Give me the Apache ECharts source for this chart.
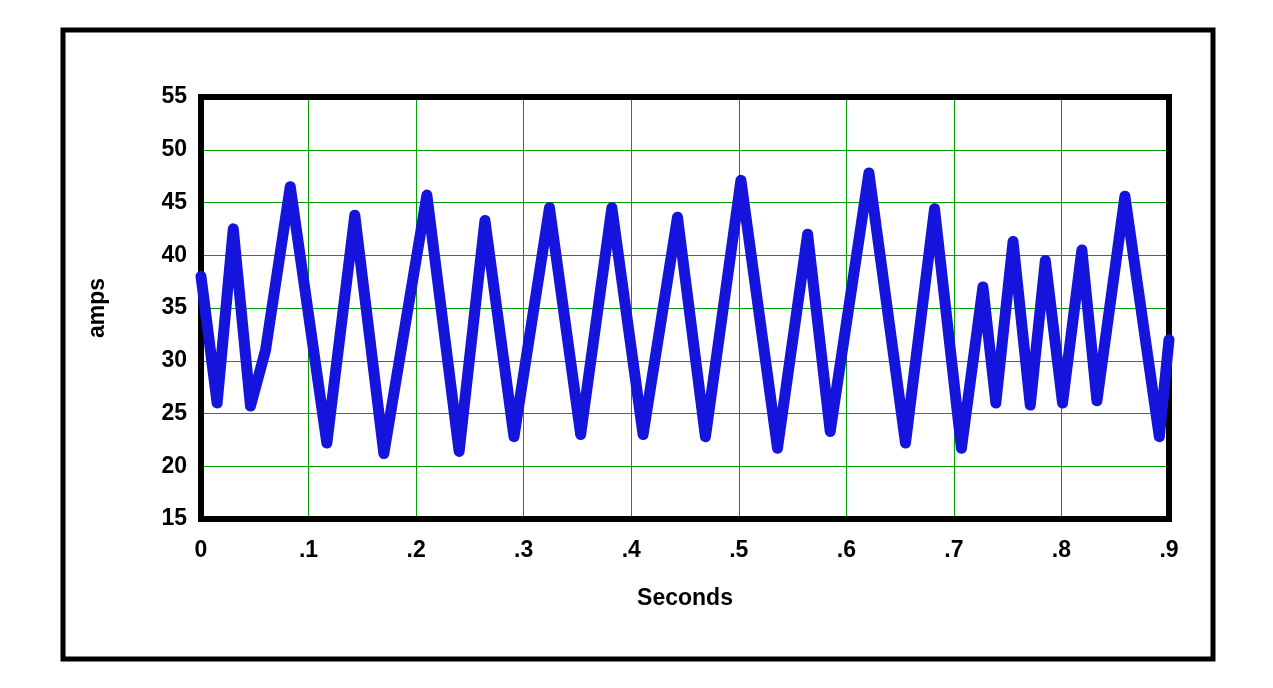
<!DOCTYPE html>
<html>
<head>
<meta charset="utf-8">
<script src="https://cdn.jsdelivr.net/npm/echarts@6/dist/echarts.min.js"></script>
<style>html,body{margin:0;padding:0;background:#fff}#chart{width:1273px;height:688px}</style>
</head>
<body>
<div id="chart"></div>
<script>
// turning points of the current trace (seconds, amps)
var times = [0, 0.015, 0.030, 0.046, 0.060, 0.083, 0.117, 0.143, 0.170, 0.210, 0.240, 0.264, 0.291,
  0.324, 0.353, 0.382, 0.411, 0.443, 0.469, 0.502, 0.536, 0.564, 0.585, 0.621, 0.655, 0.682,
  0.707, 0.727, 0.739, 0.755, 0.771, 0.785, 0.801, 0.819, 0.833, 0.859, 0.891, 0.9];
var amps = [38, 26, 42.5, 25.7, 31, 46.5, 22.2, 43.8, 21.2, 45.7, 21.4, 43.3, 22.8,
  44.5, 23, 44.5, 23, 43.6, 22.8, 47.1, 21.7, 42, 23.3, 47.8, 22.2, 44.4,
  21.7, 37, 26, 41.3, 25.8, 39.5, 26, 40.5, 26.2, 45.6, 22.8, 32];
var xTicks = ['0', '.1', '.2', '.3', '.4', '.5', '.6', '.7', '.8', '.9'];

var points = times.map(function (t, i) { return [t, amps[i]]; });
var font = { fontFamily: 'Liberation Sans', fontWeight: 'bold', fontSize: 23, color: '#000' };

var chart = echarts.init(document.getElementById('chart'));
chart.setOption({
    animation: false,
    graphic: [{
        type: 'rect',
        shape: { x: 63, y: 30, width: 1150, height: 629 },
        style: { fill: 'none', stroke: '#000', lineWidth: 5 }
    }],
    grid: {
        left: 201, right: 104, top: 97, bottom: 169,
        show: true, borderColor: '#000', borderWidth: 6, z: 3
    },
    xAxis: {
        type: 'value', min: 0, max: 0.9, interval: 0.1,
        name: 'Seconds', nameLocation: 'middle', nameGap: 68,
        nameTextStyle: font,
        axisLine: { show: false },
        axisTick: { show: false },
        axisLabel: Object.assign({ margin: 20, formatter: function (v) { return xTicks[Math.round(v * 10)]; } }, font),
        splitLine: { show: true, lineStyle: { color: '#00a000', width: 1 } }
    },
    yAxis: {
        type: 'value', min: 15, max: 55, interval: 5,
        name: 'amps', nameLocation: 'middle', nameGap: 92,
        nameTextStyle: font,
        axisLine: { show: false },
        axisTick: { show: false },
        axisLabel: Object.assign({ margin: 14 }, font),
        splitLine: { show: true, lineStyle: { color: '#00a000', width: 1 } }
    },
    series: [{
        type: 'line',
        data: points,
        showSymbol: false,
        lineStyle: { color: '#1414dc', width: 11, join: 'round', cap: 'round' }
    }]
});
window.addEventListener('resize', function () { chart.resize(); });
</script>
</body>
</html>
